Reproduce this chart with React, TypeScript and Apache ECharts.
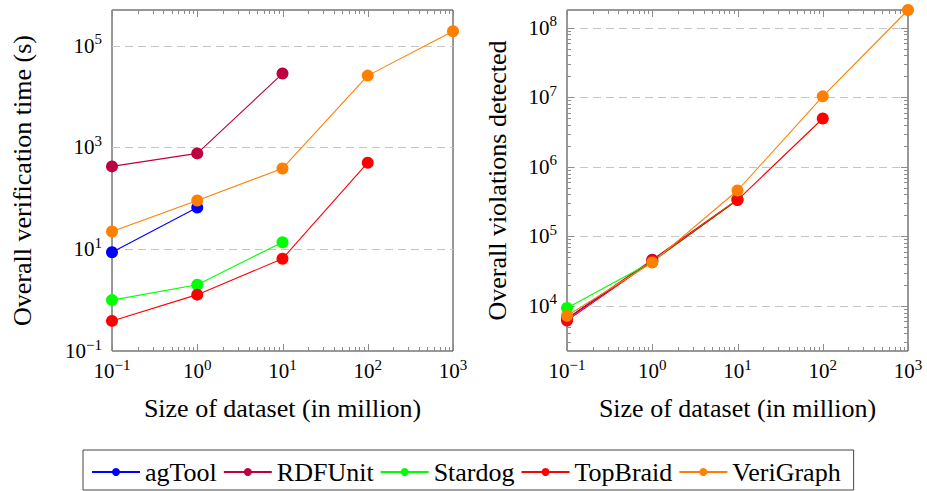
import React, { useEffect, useRef } from "react";
import * as echarts from "echarts";

// ---------- data ----------
const sizes = [0.1, 1, 10, 100, 1000];
const toolNames = ["agTool", "RDFUnit", "Stardog", "TopBraid", "VeriGraph"];
const toolColors = ["#0000ff", "#bf0040", "#00ff00", "#ff0000", "#ff8000"];

// Overall verification time (s)
const timeAgTool = [8.7, 66];
const timeRDFUnit = [423, 762, 28200];
const timeStardog = [1.0, 2.0, 13.7];
const timeTopBraid = [0.39, 1.28, 6.5, 500];
const timeVeriGraph = [22.2, 90.6, 386, 25700, 191000];

// Overall violations detected
const violAgTool = [6500, 44000];
const violRDFUnit = [6600, 46000, 340000];
const violStardog = [9300, 43000, 335000];
const violTopBraid = [6150, 43600, 332000, 4950000];
const violVeriGraph = [7180, 42000, 456000, 10300000, 180000000];

// axis ranges / ticks
const xMin = 0.1;
const xMax = 1000;
const leftYMin = 0.1;
const leftYMax = 5e5;
const rightYMin = 2240;
const rightYMax = 1.8e8;
const xMajorTicks = [0.1, 1, 10, 100, 1000];
const minorMultipliers = [2, 3, 4, 5, 6, 7, 8, 9];
const leftGridLines = [10, 1000, 100000];
const rightMajorTicks = [1e3, 1e4, 1e5, 1e6, 1e7, 1e8];

const FONT = "Liberation Serif";

const timeSeries = [timeAgTool, timeRDFUnit, timeStardog, timeTopBraid, timeVeriGraph];
const violSeries = [violAgTool, violRDFUnit, violStardog, violTopBraid, violVeriGraph];

function minorOf(decades: number[], lo: number, hi: number) {
  const out: number[] = [];
  decades.forEach((d) => minorMultipliers.forEach((m) => {
    const v = d * m;
    if (v > lo && v < hi) out.push(v);
  }));
  return out;
}

function supLabel(v: number) {
  const e = Math.round(Math.log10(v));
  const s = e < 0 ? "\u2212" + Math.abs(e) : String(e);
  return `{b|10}{s|${s}}`;
}

const richLabel = {
  b: { fontSize: 21, fontFamily: FONT, color: "#000", lineHeight: 28 },
  s: { fontSize: 15, fontFamily: FONT, color: "#000", lineHeight: 15, verticalAlign: "top" },
};

function renderTicks(params: any, api: any) {
  const kind = api.value(2);
  const cs = params.coordSys;
  const left = cs.x, right = cs.x + cs.width, top = cs.y, bottom = cs.y + cs.height;
  const stroke = { stroke: "#8c8c8c", lineWidth: 1 };
  const pt = api.coord([api.value(0), api.value(1)]);
  if (kind === 0 || kind === 1) {
    const px = Math.round(pt[0]) + 0.5;
    const len = kind === 1 ? 7 : 4;
    return {
      type: "group",
      children: [
        { type: "line", shape: { x1: px, y1: bottom, x2: px, y2: bottom - len }, style: stroke },
        { type: "line", shape: { x1: px, y1: top, x2: px, y2: top + len }, style: stroke },
      ],
    };
  }
  const py = Math.round(pt[1]) + 0.5;
  if (kind === 4) {
    return {
      type: "line",
      shape: { x1: left, y1: py, x2: right, y2: py },
      style: { stroke: "#c4c4c4", lineWidth: 1, lineDash: [8, 5] },
    };
  }
  const len = kind === 3 ? 7 : 4;
  return {
    type: "group",
    children: [
      { type: "line", shape: { x1: left, y1: py, x2: left + len, y2: py }, style: stroke },
      { type: "line", shape: { x1: right, y1: py, x2: right - len, y2: py }, style: stroke },
    ],
  };
}

export default function App() {
  const ref = useRef<HTMLDivElement>(null);
  useEffect(() => {
    if (!ref.current) return;
    const chart = echarts.init(ref.current, null, { renderer: "svg" });

    const xDecades = [0.1, 1, 10, 100];
    const xMinor = minorOf(xDecades, xMin, xMax);
    const rightMinor = minorOf(rightMajorTicks, rightYMin, rightYMax);

    const leftTickData: any[] = [];
    xMajorTicks.forEach((v) => leftTickData.push([v, leftYMin, 1]));
    xMinor.forEach((v) => leftTickData.push([v, leftYMin, 0]));
    leftGridLines.forEach((v) => leftTickData.push([xMin, v, 4]));

    const rightTickData: any[] = [];
    xMajorTicks.forEach((v) => rightTickData.push([v, rightYMin, 1]));
    xMinor.forEach((v) => rightTickData.push([v, rightYMin, 0]));
    rightMajorTicks.filter((v) => v > rightYMin && v < rightYMax).forEach((v) => {
      rightTickData.push([xMin, v, 4]);
      rightTickData.push([xMin, v, 3]);
    });
    rightMinor.forEach((v) => rightTickData.push([xMin, v, 2]));

    const makeLine = (vals: number[], i: number, axis: number) => ({
      type: "line",
      name: toolNames[i],
      xAxisIndex: axis,
      yAxisIndex: axis,
      data: vals.map((v, k) => [sizes[k], v]),
      symbol: "circle",
      symbolSize: 12,
      clip: false,
      z: 3,
      lineStyle: { width: 1.1, color: toolColors[i] },
      itemStyle: { color: toolColors[i] },
      emphasis: { disabled: true },
    });

    const xAxisBase = (gridIndex: number) => ({
      type: "log",
      logBase: 10,
      gridIndex,
      min: xMin,
      max: xMax,
      interval: 1,
      axisLine: { show: false },
      axisTick: { show: false },
      splitLine: { show: false },
      axisLabel: {
        margin: 6,
        fontFamily: FONT,
        formatter: (v: number) => supLabel(v),
        rich: richLabel,
      },
      name: "Size of dataset (in million)",
      nameLocation: "middle",
      nameGap: 44,
      nameTextStyle: { fontFamily: FONT, fontSize: 26, color: "#000" },
    });

    const option: any = {
      animation: false,
      backgroundColor: "#fff",
      textStyle: { fontFamily: FONT },
      grid: [
        { left: 112, top: 10, width: 341, height: 341, show: true, borderColor: "#333", borderWidth: 1, backgroundColor: "transparent" },
        { left: 567, top: 10, width: 341, height: 341, show: true, borderColor: "#333", borderWidth: 1, backgroundColor: "transparent" },
      ],
      xAxis: [xAxisBase(0), xAxisBase(1)],
      yAxis: [
        {
          type: "log",
          logBase: 10,
          gridIndex: 0,
          min: leftYMin,
          max: leftYMax,
          interval: 1,
          axisLine: { show: false },
          axisTick: { show: false },
          splitLine: { show: false },
          axisLabel: {
            margin: 10,
            fontFamily: FONT,
            formatter: (v: number) => {
              const l = Math.log10(v);
              const e = Math.round(l);
              if (Math.abs(l - e) > 0.01) return "";
              if (Math.abs(e) % 2 !== 1) return "";
              return supLabel(v);
            },
            rich: richLabel,
          },
          name: "Overall verification time (s)",
          nameLocation: "middle",
          nameGap: 77,
          nameTextStyle: { fontFamily: FONT, fontSize: 26, color: "#000" },
        },
        {
          type: "log",
          logBase: 10,
          gridIndex: 1,
          min: rightYMin,
          max: rightYMax,
          splitNumber: 5,
          axisLine: { show: false },
          axisTick: { show: false },
          splitLine: { show: false },
          axisLabel: {
            margin: 10,
            fontFamily: FONT,
            showMinLabel: true,
            showMaxLabel: true,
            formatter: (v: number) => {
              const l = Math.log10(v);
              const e = Math.round(l);
              if (Math.abs(l - e) > 0.01) return "";
              return supLabel(v);
            },
            rich: richLabel,
          },
          name: "Overall violations detected",
          nameLocation: "middle",
          nameGap: 57,
          nameTextStyle: { fontFamily: FONT, fontSize: 26, color: "#000" },
        },
      ],
      legend: {
        data: toolNames,
        left: 83,
        top: 450,
        padding: [9, 13, 5, 8],
        itemGap: 6,
        itemWidth: 48,
        itemHeight: 10,
        borderColor: "#444",
        borderWidth: 1,
        borderRadius: 0,
        selectedMode: false,
        textStyle: { fontFamily: FONT, fontSize: 26, color: "#000" },
      },
      series: [
        {
          type: "custom",
          xAxisIndex: 0,
          yAxisIndex: 0,
          z: 1,
          silent: true,
          clip: false,
          renderItem: renderTicks,
          data: leftTickData,
          encode: { x: 0, y: 1 },
        },
        {
          type: "custom",
          xAxisIndex: 1,
          yAxisIndex: 1,
          z: 1,
          silent: true,
          clip: false,
          renderItem: renderTicks,
          data: rightTickData,
          encode: { x: 0, y: 1 },
        },
        ...timeSeries.map((vals, i) => makeLine(vals, i, 0)),
        ...violSeries.map((vals, i) => makeLine(vals, i, 1)),
      ],
    };
    chart.setOption(option);
    return () => chart.dispose();
  }, []);
  return (
    <div
      ref={ref}
      style={{ position: "absolute", left: 0, top: 0, width: 927, height: 491, background: "#fff" }}
    />
  );
}
